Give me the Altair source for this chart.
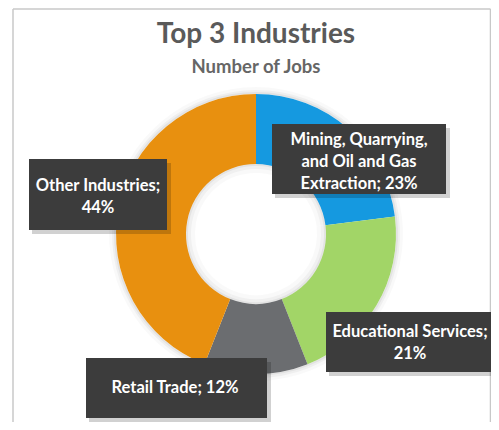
import altair as alt
import pandas as pd

# ---- data ----
categories = ["Mining, Quarrying, and Oil and Gas Extraction", "Educational Services", "Retail Trade", "Other Industries"]
shares = [23, 21, 12, 44]
order = [1, 2, 3, 4]
colors = ["#1599E0", "#A2D567", "#6B6D70", "#E8900F"]
label_lines = [
    "Mining, Quarrying,\nand Oil and Gas\nExtraction; 23%",
    "Educational Services;\n21%",
    "Retail Trade; 12%",
    "Other Industries;\n44%",
]
title_text = "Top 3 Industries"
subtitle_text = "Number of Jobs"

df = pd.DataFrame({"cat": categories, "share": shares, "ord": order, "label": label_lines})

W, H = 483, 414
CX, CY = 248, 226
R_OUT, R_IN = 140, 70

base = alt.Chart(df)
theta = alt.Theta("share:Q", stack=True)
ordr = alt.Order("ord:Q")

def ring(inner, outer, color, opacity):
    return base.mark_arc(innerRadius=inner, outerRadius=outer, color=color, opacity=opacity).encode(
        theta=theta, order=ordr, x=alt.value(CX), y=alt.value(CY))

shadows = [
    ring(R_OUT, R_OUT + 7, "#000000", 0.025),
    ring(R_OUT, R_OUT + 4, "#000000", 0.04),
    ring(R_OUT, R_OUT + 2, "#000000", 0.05),
]

donut = base.mark_arc(innerRadius=R_IN, outerRadius=R_OUT).encode(
    theta=theta, order=ordr,
    color=alt.Color("cat:N", scale=alt.Scale(domain=categories, range=colors), legend=None),
    x=alt.value(CX), y=alt.value(CY),
)

inner_shade = [
    ring(R_IN - 9, R_IN, "#000000", 0.025),
    ring(R_IN - 5, R_IN, "#000000", 0.035),
    ring(R_IN - 2, R_IN, "#000000", 0.05),
]

# frame
frame = [
    base.transform_filter(alt.datum.ord == 1).mark_rule(color="#c8c8c8", strokeWidth=1.5).encode(
        x=alt.value(5), x2=alt.value(5), y=alt.value(1), y2=alt.value(H)),
    base.transform_filter(alt.datum.ord == 1).mark_rule(color="#c8c8c8", strokeWidth=1.5).encode(
        x=alt.value(5), x2=alt.value(W - 0.5), y=alt.value(1), y2=alt.value(1)),
    base.transform_filter(alt.datum.ord == 1).mark_rule(color="#c8c8c8", strokeWidth=1.5).encode(
        x=alt.value(W - 0.5), x2=alt.value(W - 0.5), y=alt.value(1), y2=alt.value(H)),
]

# label boxes: (box x1, y1, x2, y2), (text x, first line y)
boxes = {
    1: ((264, 116, 438, 186), (351, 132)),
    2: ((318, 304, W, 364), (402, 324)),
    3: ((78, 350, 259, 410), (167, 380)),
    4: ((21, 151, 159, 222), (90, 178)),
}

labels = []
for k, ((x1, y1, x2, y2), (tx, ty)) in boxes.items():
    sub = base.transform_filter(alt.datum.ord == k)
    labels.append(sub.mark_rect(color="#000000", opacity=0.18).encode(
        x=alt.value(x1 + 3), x2=alt.value(min(x2 + 4, W)), y=alt.value(y1 + 4), y2=alt.value(y2 + 4)))
    labels.append(sub.mark_rect(color="#3c3c3c").encode(
        x=alt.value(x1), x2=alt.value(x2), y=alt.value(y1), y2=alt.value(y2)))
    labels.append(sub.mark_text(font="Lato", fontSize=16.5, fontWeight="bold", color="white",
                                align="center", baseline="middle", lineBreak="\n", lineHeight=22).encode(
        text="label:N", x=alt.value(tx), y=alt.value(ty)))

first = base.transform_filter(alt.datum.ord == 1)
titles = [
    first.mark_text(font="Lato", fontSize=28, fontWeight="bold", color="#5a5a5a",
                    align="center", baseline="middle").encode(
        text=alt.value(title_text), x=alt.value(CX), y=alt.value(27)),
    first.mark_text(font="Lato", fontSize=18.5, fontWeight="bold", color="#666666",
                    align="center", baseline="middle").encode(
        text=alt.value(subtitle_text), x=alt.value(CX), y=alt.value(59)),
]

chart = alt.layer(*frame, *shadows, donut, *inner_shade, *labels, *titles).properties(
    width=W, height=H, padding=0, autosize=alt.AutoSizeParams(type="none"),
    background="white",
).configure_view(stroke=None)

chart.save("out.html", embed_options={"renderer": "svg", "actions": False})
